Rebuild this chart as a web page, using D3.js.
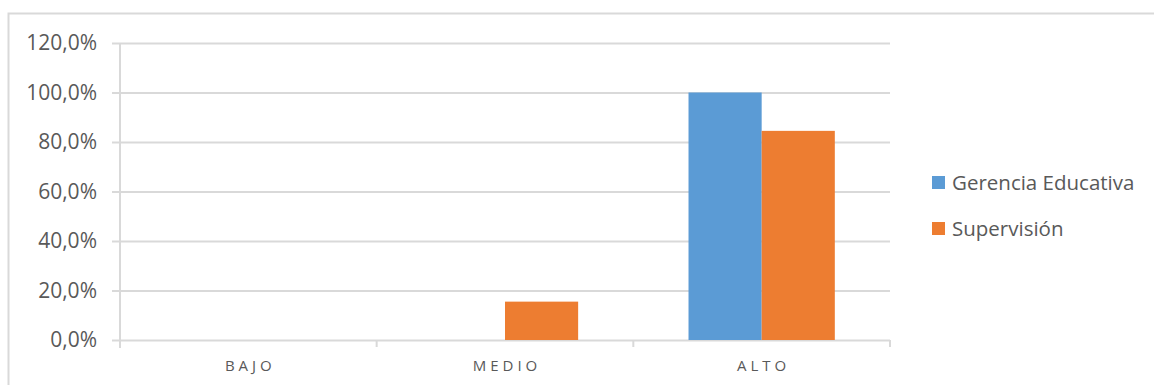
<!DOCTYPE html>
<html>
<head>
<meta charset="utf-8">
<script src="https://cdn.jsdelivr.net/npm/d3@7"></script>
<style>
  body { margin: 0; background: #fff; }
  text { font-family: "Open Sans", sans-serif; fill: #595959; }
</style>
</head>
<body>
<div id="chart"></div>
<script>
// data
var categories = ["BAJO", "MEDIO", "ALTO"];
var seriesNames = ["Gerencia Educativa", "Supervisión"];
var gerencia = [0, 0, 1.0];
var supervision = [0, 0.155, 0.845];
var yTicks = [0, 0.2, 0.4, 0.6, 0.8, 1.0, 1.2];
var colors = ["#5b9bd5", "#ed7d31"];

var W = 1154, H = 385;
var margin = {left: 120, right: 264, top: 43, bottom: 45};

var svg = d3.select("#chart").append("svg")
    .attr("width", W)
    .attr("height", H);

// chart frame
svg.append("rect")
    .attr("x", 8.5).attr("y", 13.5)
    .attr("width", W + 10).attr("height", H + 10)
    .attr("fill", "none")
    .attr("stroke", "#d9d9d9")
    .attr("stroke-width", 2);

var x0 = d3.scaleBand()
    .domain(categories)
    .range([margin.left, W - margin.right])
    .paddingInner(0.43)
    .paddingOuter(0.215);

var x1 = d3.scaleBand()
    .domain(seriesNames)
    .range([0, x0.bandwidth()]);

var y = d3.scaleLinear()
    .domain([0, 1.2])
    .range([H - margin.bottom, margin.top]);

var fmt = function(d) { return d3.format(".1f")(d * 100).replace(".", ",") + "%"; };

// gridlines + y labels
var yAxis = d3.axisLeft(y)
    .tickValues(yTicks)
    .tickSize(-(W - margin.right - margin.left) - 8)
    .tickFormat(fmt);

var gy = svg.append("g")
    .attr("transform", "translate(" + margin.left + ",0)")
    .call(yAxis);
gy.select(".domain").remove();
gy.selectAll(".tick line")
    .attr("x1", -8)
    .attr("x2", W - margin.right - margin.left)
    .attr("stroke", "#d9d9d9")
    .attr("stroke-width", 2);
gy.selectAll(".tick text")
    .attr("x", -23)
    .style("font-size", "21px")
    .style("font-family", "'Open Sans', sans-serif")
    .attr("fill", "#595959");

// vertical axis line
svg.append("line")
    .attr("x1", margin.left).attr("x2", margin.left)
    .attr("y1", margin.top).attr("y2", y(0) + 8)
    .attr("stroke", "#d9d9d9")
    .attr("stroke-width", 2);

// category separators
var bounds = [W - margin.right];
categories.forEach(function(c, i) {
    if (i > 0) bounds.push(x0(c) - x0.step() * x0.paddingInner() / 2);
});
svg.selectAll(".sep")
    .data(bounds)
    .enter().append("line")
    .attr("x1", function(d) { return d; })
    .attr("x2", function(d) { return d; })
    .attr("y1", y(0))
    .attr("y2", y(0) + 7)
    .attr("stroke", "#d9d9d9")
    .attr("stroke-width", 2);

// bars
var groups = svg.selectAll(".cat")
    .data(categories)
    .enter().append("g")
    .attr("transform", function(d) { return "translate(" + x0(d) + ",0)"; });

groups.selectAll("rect")
    .data(function(d, i) {
        return [
            {name: seriesNames[0], value: gerencia[i], c: colors[0]},
            {name: seriesNames[1], value: supervision[i], c: colors[1]}
        ];
    })
    .enter().append("rect")
    .attr("x", function(d) { return x1(d.name); })
    .attr("width", x1.bandwidth())
    .attr("y", function(d) { return y(d.value); })
    .attr("height", function(d) { return y(0) - y(d.value); })
    .attr("fill", function(d) { return d.c; });

// category labels
svg.selectAll(".catlabel")
    .data(categories)
    .enter().append("text")
    .attr("x", function(d) { return x0(d) + x0.bandwidth() / 2 + 2; })
    .attr("y", y(0) + 31)
    .attr("text-anchor", "middle")
    .style("font-size", "15px")
    .style("letter-spacing", "4px")
    .text(function(d) { return d; });

// legend
var legend = svg.selectAll(".legend")
    .data(seriesNames)
    .enter().append("g")
    .attr("transform", function(d, i) { return "translate(932," + (176 + i * 46) + ")"; });

legend.append("rect")
    .attr("width", 13).attr("height", 13)
    .attr("fill", function(d, i) { return colors[i]; });

legend.append("text")
    .attr("x", 20)
    .attr("y", 14)
    .style("font-size", "20.5px")
    .text(function(d) { return d; });
</script>
</body>
</html>
